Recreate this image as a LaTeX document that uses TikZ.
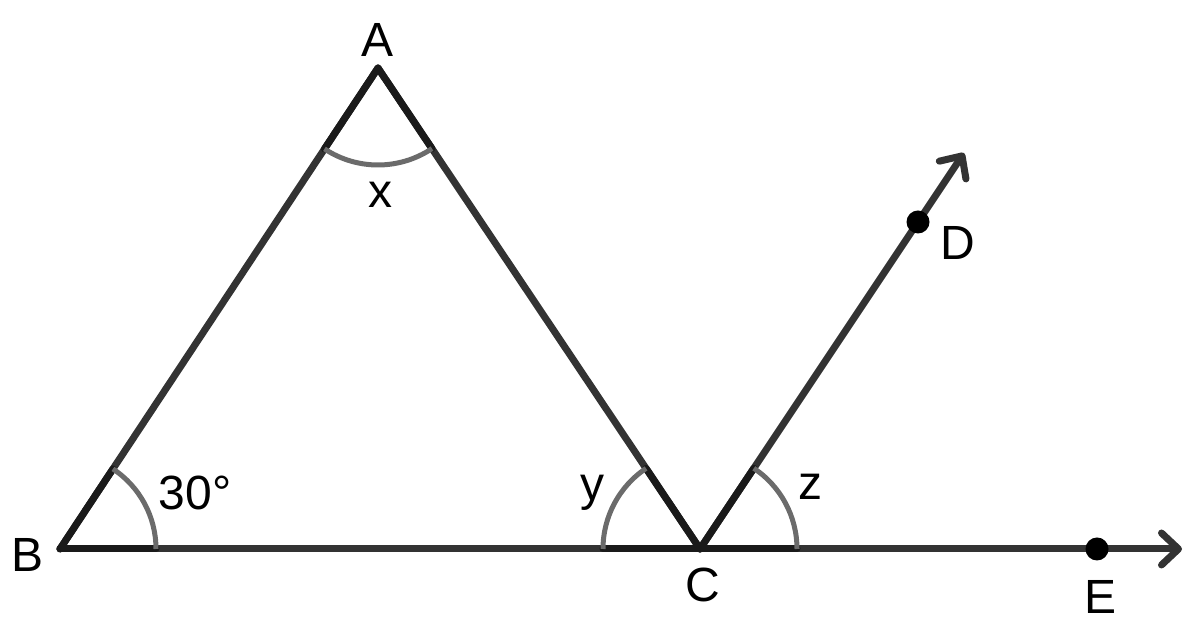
\documentclass[tikz,border=0pt]{standalone}
\usepackage{fontspec}
\setmainfont{Liberation Sans}
\usetikzlibrary{arrows.meta,calc}
\definecolor{linegray}{HTML}{333333}
\definecolor{edgedark}{HTML}{1A1A1A}
\definecolor{arcgray}{HTML}{6B6B6B}
\begin{document}
\begin{tikzpicture}[x=1pt,y=1pt,
  seg/.style={draw=linegray,line width=7pt,line cap=round,line join=round},
  rad/.style={draw=edgedark,line width=7pt,line cap=round},
  arcm/.style={draw=arcgray,line width=5pt},
  ray/.style={draw=linegray,line width=7pt,line cap=round,
    -{Straight Barb[length=17pt,width=32pt,round,line width=7pt]}},
  lbl/.style={font=\fontsize{48}{58}\selectfont,inner sep=0pt,text=black},
  dot/.style={circle,fill=black,inner sep=0pt,minimum size=23pt}]
\useasboundingbox (0,0) rectangle (1200,631);
\coordinate (B) at (60,82);
\coordinate (A) at (378,563);
\coordinate (C) at (700,82);
\coordinate (Dend) at (964,478);
\coordinate (Eend) at (1182,82);
% rays
\draw[ray] (C) -- (Dend);
\draw[ray] (B) -- (Eend);
% triangle
\draw[seg] (B) -- (A) -- (C);
% angle markers: radial parts
\draw[rad] (B) -- ($(B)!96pt!(C)$);
\draw[rad] (B) -- ($(B)!96pt!(A)$);
\draw[rad] (A) -- ($(A)!97pt!(B)$);
\draw[rad] (A) -- ($(A)!97pt!(C)$);
\draw[rad] (C) -- ($(C)!97pt!(A)$);
\draw[rad] (C) -- ($(C)!97pt!(B)$);
\draw[rad] (C) -- ($(C)!97pt!(Dend)$);
\draw[rad] (C) -- ++(97,0);
% arcs
\draw[arcm] (B) ++(0:96) arc[start angle=0,end angle=56.52,radius=96];
\draw[arcm] (A) ++(236.52:97) arc[start angle=236.52,end angle=303.81,radius=97];
\draw[arcm] (C) ++(123.81:97) arc[start angle=123.81,end angle=180,radius=97];
\draw[arcm] (C) ++(0:97) arc[start angle=0,end angle=56.31,radius=97];
% points
\node[dot] (D) at (918,409) {};
\node[dot] (E) at (1097,82) {};
% labels
\node[lbl] (lA) at (378,591) {A};
\node[lbl] (lx) at (380,436) {x};
\node[lbl] (lB) at (28,76) {B};
\node[lbl] (l30) at (195,138) {30°};
\node[lbl] (ly) at (592,138) {y};
\node[lbl] (lz) at (810,144) {z};
\node[lbl] (lC) at (703,46) {C};
\node[lbl] (lD) at (958,388) {D};
\node[lbl] (lE) at (1100,34) {E};
\end{tikzpicture}
\end{document}
